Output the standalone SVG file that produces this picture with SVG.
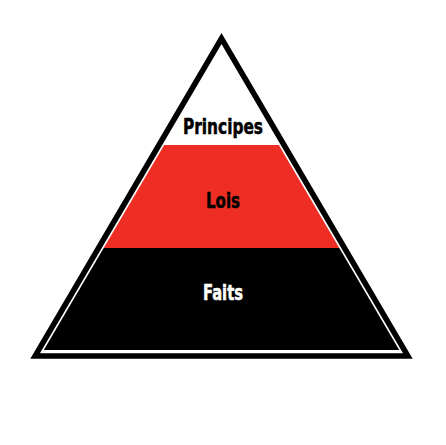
<svg xmlns="http://www.w3.org/2000/svg" width="446" height="445" viewBox="0 0 446 445">
  <style>
    .lbl { font-family: "Liberation Sans Narrow", "DejaVu Sans Condensed", "Liberation Sans", sans-serif; font-weight: bold; font-size: 21px; text-anchor: middle; stroke-width: 0.5; }
  </style>
  <rect x="0" y="0" width="446" height="445" fill="#ffffff"/>
  <g id="faits">
    <polygon points="103.7,248 339.3,248 399.2,350 43.8,350" fill="#000000"/>
    <text class="lbl" x="223" y="300" fill="#ffffff" stroke="#ffffff" textLength="40" lengthAdjust="spacingAndGlyphs">Faits</text>
  </g>
  <g id="lois">
    <polygon points="164.2,145 278.8,145 339.3,248 103.7,248" fill="#ee2e24"/>
    <text class="lbl" x="223" y="208" fill="#000000" stroke="#000000" textLength="34" lengthAdjust="spacingAndGlyphs">Lois</text>
  </g>
  <g id="principes">
    <text class="lbl" x="223" y="134" fill="#000000" stroke="#000000" textLength="80" lengthAdjust="spacingAndGlyphs">Principes</text>
  </g>
  <g id="outline">
    <polygon points="221.5,38.5 35.1,356 407.9,356" fill="none" stroke="#000000" stroke-width="5.5" stroke-linejoin="miter" stroke-miterlimit="10"/>
  </g>
</svg>
